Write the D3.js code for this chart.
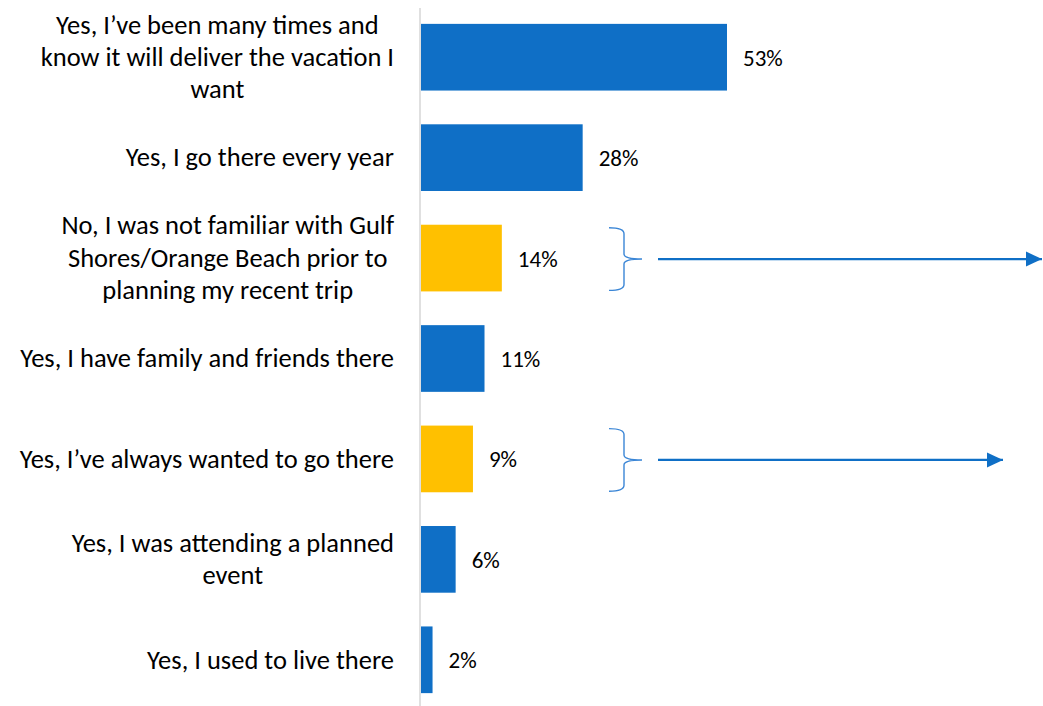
<!DOCTYPE html>
<html>
<head>
<meta charset="utf-8">
<script src="https://cdn.jsdelivr.net/npm/d3@7"></script>
<style>
  html, body { margin: 0; padding: 0; background: #fff; }
  svg { display: block; }
  text { font-family: Carlito, Calibri, Lato, sans-serif; fill: #000; }
</style>
</head>
<body>
<svg id="chart" width="1043" height="706"></svg>
<script>
// Survey answers (line breaks as wrapped in the chart)
const categories = [
  "Yes, I\u2019ve been many times and\nknow it will deliver the vacation I\nwant",
  "Yes, I go there every year",
  "No, I was not familiar with Gulf\nShores/Orange Beach prior to\nplanning my recent trip",
  "Yes, I have family and friends there",
  "Yes, I\u2019ve always wanted to go there",
  "Yes, I was attending a planned\nevent",
  "Yes, I used to live there"
];
const values = [53, 28, 14, 11, 9, 6, 2];
// Answers singled out in gold, each with a bracket and arrow
const highlighted = [categories[2], categories[4]];
const arrowEnds = [1042, 1003];

const W = 1043, H = 706;
const blue = "#0F6FC6", gold = "#FFC000";
const labelSize = 26.5, valueSize = 23, lineGap = 32.4;

const svg = d3.select("#chart");

const x = d3.scaleLinear().domain([0, 53]).range([421, 727]);
const y = d3.scaleBand().domain(categories).range([7, 710])
  .paddingInner(0.336).paddingOuter(0.168);

// Vertical category axis line
svg.append("line")
  .attr("x1", 420).attr("x2", 420)
  .attr("y1", 8).attr("y2", H)
  .attr("stroke", "#d9d9d9").attr("stroke-width", 1.6);

const data = categories.map((c, i) => ({ cat: c, value: values[i] }));

// Bars
svg.append("g").selectAll("rect").data(data).join("rect")
  .attr("x", x(0))
  .attr("y", d => y(d.cat))
  .attr("width", d => x(d.value) - x(0))
  .attr("height", y.bandwidth())
  .attr("fill", d => highlighted.includes(d.cat) ? gold : blue);

// Value labels
svg.append("g").selectAll("text").data(data).join("text")
  .attr("x", d => x(d.value) + 16)
  .attr("y", d => y(d.cat) + y.bandwidth() / 2 + 8.5)
  .style("font-size", valueSize + "px")
  .text(d => d.value + "%");

// Category labels: each block ends at the axis gap, lines centred within it
const rightEdge = 394;
const labelG = svg.append("g");
data.forEach(d => {
  const lines = d.cat.split("\n");
  const cy = y(d.cat) + y.bandwidth() / 2;
  const g = labelG.append("g");
  const texts = lines.map((ln, i) => g.append("text")
    .attr("y", cy + labelSize * 0.33 + (i - (lines.length - 1) / 2) * lineGap)
    .style("font-size", labelSize + "px")
    .attr("text-anchor", "middle")
    .text(ln));
  const maxW = d3.max(texts, t => t.node().getComputedTextLength());
  texts.forEach(t => t.attr("x", rightEdge - maxW / 2));
});

// Brackets and arrows for highlighted answers
const ann = svg.append("g");
ann.append("defs").append("marker")
  .attr("id", "head")
  .attr("viewBox", "0 0 16 16")
  .attr("refX", 16).attr("refY", 8)
  .attr("markerWidth", 16).attr("markerHeight", 16)
  .attr("markerUnits", "userSpaceOnUse")
  .attr("orient", "auto")
  .append("path")
  .attr("d", "M0,0.5 L16,8 L0,15.5 Z")
  .attr("fill", blue);

highlighted.forEach((cat, i) => {
  const top = y(cat) + 3, bot = y(cat) + y.bandwidth() - 1;
  const mid = (top + bot) / 2;
  const xl = 609, xv = 624, xp = 642;
  const p = d3.path();
  p.moveTo(xl, top);
  p.quadraticCurveTo(xv, top, xv, top + 6);
  p.lineTo(xv, mid - 5);
  p.quadraticCurveTo(xv, mid, xp, mid);
  p.quadraticCurveTo(xv, mid, xv, mid + 5);
  p.lineTo(xv, bot - 6);
  p.quadraticCurveTo(xv, bot, xl, bot);
  ann.append("path")
    .attr("d", p.toString())
    .attr("fill", "none")
    .attr("stroke", "#3B86D6")
    .attr("stroke-width", 1.4);

  ann.append("line")
    .attr("x1", 658).attr("x2", arrowEnds[i])
    .attr("y1", mid).attr("y2", mid)
    .attr("stroke", blue).attr("stroke-width", 2.3)
    .attr("marker-end", "url(#head)");
});
</script>
</body>
</html>
